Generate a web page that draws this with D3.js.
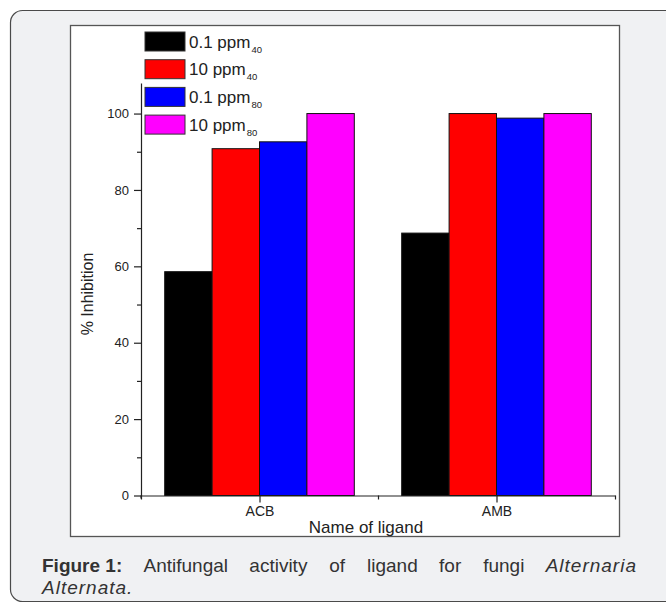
<!DOCTYPE html>
<html>
<head>
<meta charset="utf-8">
<script src="https://cdn.jsdelivr.net/npm/d3@7"></script>
<style>
  body { margin: 0; background: #fff; }
  svg { display: block; font-family: "Liberation Sans", Arial, sans-serif; }
</style>
</head>
<body>
<svg id="canvas"></svg>
<script>
const categories = ["ACB", "AMB"];
const seriesNames = ["0.1 ppm", "10 ppm", "0.1 ppm", "10 ppm"];
const seriesSubs = ["40", "40", "80", "80"];
const seriesColors = ["#000000", "#ff0000", "#0000ff", "#ff00ff"];
// % inhibition, one array per series, in category order
const values = [
  [58.6, 68.7],
  [90.8, 100],
  [92.6, 98.8],
  [100, 100],
];
const yMajorTicks = [0, 20, 40, 60, 80, 100];
const yMinorTicks = [10, 30, 50, 70, 90];
const xMinorTicks = [0.5, 1.5, 2.5];
const yTitle = "% Inhibition";
const xTitle = "Name of ligand";
const captionLine1 = [
  { t: "Figure 1:", w: "bold", s: "normal" },
  { t: "Antifungal", w: "normal", s: "normal" },
  { t: "activity", w: "normal", s: "normal" },
  { t: "of", w: "normal", s: "normal" },
  { t: "ligand", w: "normal", s: "normal" },
  { t: "for", w: "normal", s: "normal" },
  { t: "fungi", w: "normal", s: "normal" },
  { t: "Alternaria", w: "normal", s: "italic" },
];
const captionLine2 = "Alternata.";

const width = 666;
const height = 604;
const svg = d3.select("#canvas").attr("width", width).attr("height", height);

// card and white plot box
svg.append("rect")
  .attr("x", 10.5).attr("y", 10.5)
  .attr("width", 700).attr("height", 591)
  .attr("rx", 12)
  .attr("fill", "#f0f1f3")
  .attr("stroke", "#4a4a4a")
  .attr("stroke-width", 1.2);

svg.append("rect")
  .attr("x", 70.5).attr("y", 25.5)
  .attr("width", 549).attr("height", 511)
  .attr("fill", "#ffffff")
  .attr("stroke", "#555")
  .attr("stroke-width", 1.3);

const x = d3.scaleLinear().domain([0.5, 2.5]).range([141, 615]);
const y = d3.scaleLinear().domain([0, 108]).range([495.5, 83]);
const barW = x(0.2) - x(0);

// bars
values.forEach((vals, j) => {
  svg.append("g")
    .selectAll("rect")
    .data(vals)
    .enter()
    .append("rect")
    .attr("x", (d, i) => x(i + 1 - 0.4 + 0.2 * j))
    .attr("y", (d) => y(d))
    .attr("width", barW)
    .attr("height", (d) => y(0) - y(d))
    .attr("fill", seriesColors[j])
    .attr("stroke", "#111")
    .attr("stroke-width", 1);
});

// y axis
const yAxis = svg.append("g")
  .attr("transform", "translate(141,0)")
  .call(d3.axisLeft(y).tickValues(yMajorTicks).tickSize(7).tickSizeOuter(0).tickPadding(5));
svg.append("g")
  .attr("transform", "translate(141,0)")
  .call(d3.axisLeft(y).tickValues(yMinorTicks).tickSize(4).tickSizeOuter(0).tickFormat(""))
  .select(".domain").remove();
// axis line runs a little below the baseline, as in the original
svg.append("line")
  .attr("x1", 141).attr("x2", 141)
  .attr("y1", y(0)).attr("y2", y(0) + 3)
  .attr("stroke", "#222").attr("stroke-width", 1.2);

// x axis
const xAxis = svg.append("g")
  .attr("transform", "translate(0," + y(0) + ")")
  .call(d3.axisBottom(x).tickValues([1, 2]).tickFormat((d) => categories[d - 1])
    .tickSize(7).tickSizeOuter(0).tickPadding(4));
svg.append("g")
  .attr("transform", "translate(0," + y(0) + ")")
  .call(d3.axisBottom(x).tickValues(xMinorTicks).tickSize(4).tickSizeOuter(0).tickFormat(""))
  .select(".domain").remove();

svg.selectAll(".domain, .tick line").attr("stroke", "#222").attr("stroke-width", 1.2);
yAxis.selectAll("text").attr("font-size", 13).attr("fill", "#222");
xAxis.selectAll("text").attr("font-size", 14).attr("fill", "#222");

// axis titles
svg.append("text")
  .attr("transform", "translate(93,294) rotate(-90)")
  .attr("text-anchor", "middle")
  .attr("font-size", 16)
  .attr("fill", "#222")
  .text(yTitle);

svg.append("text")
  .attr("x", 366).attr("y", 533)
  .attr("text-anchor", "middle")
  .attr("font-size", 17)
  .attr("fill", "#222")
  .text(xTitle);

// legend
const legendRow = svg.append("g")
  .selectAll("g")
  .data(seriesNames)
  .enter()
  .append("g")
  .attr("transform", (d, i) => "translate(145," + (32 + i * 27.7) + ")");

legendRow.append("rect")
  .attr("width", 40).attr("height", 19)
  .attr("fill", (d, i) => seriesColors[i])
  .attr("stroke", "#333").attr("stroke-width", 1);

const legendText = legendRow.append("text")
  .attr("x", 44).attr("y", 15.5)
  .attr("font-size", 17)
  .attr("fill", "#222");
legendText.append("tspan").text((d) => d);
legendText.append("tspan")
  .attr("font-size", 9.5)
  .attr("dx", 1)
  .attr("dy", 5)
  .text((d, i) => seriesSubs[i]);

// caption, first line justified
const capLeft = 42;
const capRight = 638;
const capWords = svg.append("g")
  .selectAll("text")
  .data(captionLine1)
  .enter()
  .append("text")
  .attr("y", 572)
  .attr("font-size", 19)
  .attr("fill", "#333")
  .attr("font-weight", (d) => d.w)
  .attr("font-style", (d) => d.s)
  .attr("letter-spacing", (d) => (d.s === "italic" ? 1 : 0))
  .text((d) => d.t);

const wordWidths = capWords.nodes().map((n) => n.getBBox().width);
const gap = (capRight - capLeft - d3.sum(wordWidths)) / (wordWidths.length - 1);
let cursor = capLeft;
capWords.attr("x", (d, i) => {
  const pos = cursor;
  cursor += wordWidths[i] + gap;
  return pos;
});

svg.append("text")
  .attr("x", capLeft).attr("y", 594)
  .attr("font-size", 19)
  .attr("font-style", "italic")
  .attr("letter-spacing", 1)
  .attr("fill", "#333")
  .text(captionLine2);
</script>
</body>
</html>
